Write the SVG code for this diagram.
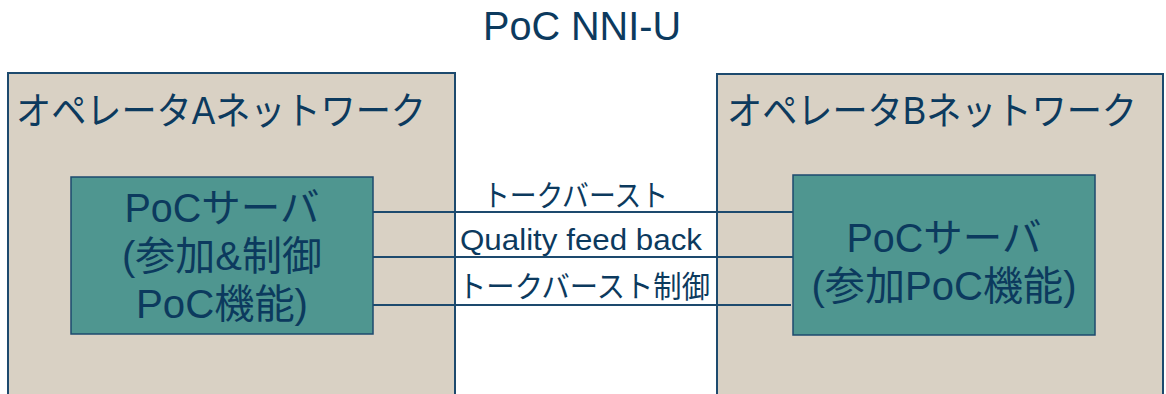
<svg xmlns="http://www.w3.org/2000/svg" width="1166" height="394" viewBox="0 0 1166 394">
<style>
text{font-family:"Liberation Sans","Noto Sans CJK JP",sans-serif;fill:#0c3a5e}
.outer{fill:#d9d1c4;stroke:#1d4a6e;stroke-width:2}
.inner{fill:#4f9690;stroke:#1d4a6e;stroke-width:1.5}
.big{font-size:40px}
.net{font-size:38px}
.lbl{font-size:30px}
.conn{stroke:#1d4a6e;stroke-width:2;fill:none}
</style>
<rect width="1166" height="394" fill="#ffffff"/>
<text id="title" class="big" x="582" y="40" text-anchor="middle" textLength="198" lengthAdjust="spacingAndGlyphs">PoC NNI-U</text>
<g id="networkA">
<rect class="outer" x="8" y="73" width="447" height="330"/>
<text class="net" x="16" y="124" textLength="410" lengthAdjust="spacingAndGlyphs">オペレータAネットワーク</text>
</g>
<g id="networkB">
<rect class="outer" x="717" y="74" width="446" height="330"/>
<text class="net" x="727" y="124" textLength="410" lengthAdjust="spacingAndGlyphs">オペレータBネットワーク</text>
</g>
<g id="serverA">
<rect class="inner" x="71" y="177" width="302" height="157"/>
<text class="big" x="222" y="222" text-anchor="middle" textLength="195" lengthAdjust="spacingAndGlyphs">PoCサーバ</text>
<text class="big" x="222" y="270" text-anchor="middle" textLength="200" lengthAdjust="spacingAndGlyphs">(参加&amp;制御</text>
<text class="big" x="222" y="318" text-anchor="middle" textLength="172" lengthAdjust="spacingAndGlyphs">PoC機能)</text>
</g>
<g id="serverB">
<rect class="inner" x="793" y="175" width="302" height="160"/>
<text class="big" x="944" y="252" text-anchor="middle" textLength="195" lengthAdjust="spacingAndGlyphs">PoCサーバ</text>
<text class="big" x="944" y="300" text-anchor="middle" textLength="265" lengthAdjust="spacingAndGlyphs">(参加PoC機能)</text>
</g>
<g id="connectors">
<line class="conn" x1="373" y1="212" x2="793" y2="212"/>
<line class="conn" x1="373" y1="257" x2="793" y2="257"/>
<line class="conn" x1="373" y1="305" x2="791" y2="305"/>
<text class="lbl" x="483" y="206" textLength="185" lengthAdjust="spacingAndGlyphs">トークバースト</text>
<text class="lbl" x="460" y="250" textLength="242" lengthAdjust="spacingAndGlyphs">Quality feed back</text>
<text class="lbl" x="458" y="297" textLength="252" lengthAdjust="spacingAndGlyphs">トークバースト制御</text>
</g>
</svg>
